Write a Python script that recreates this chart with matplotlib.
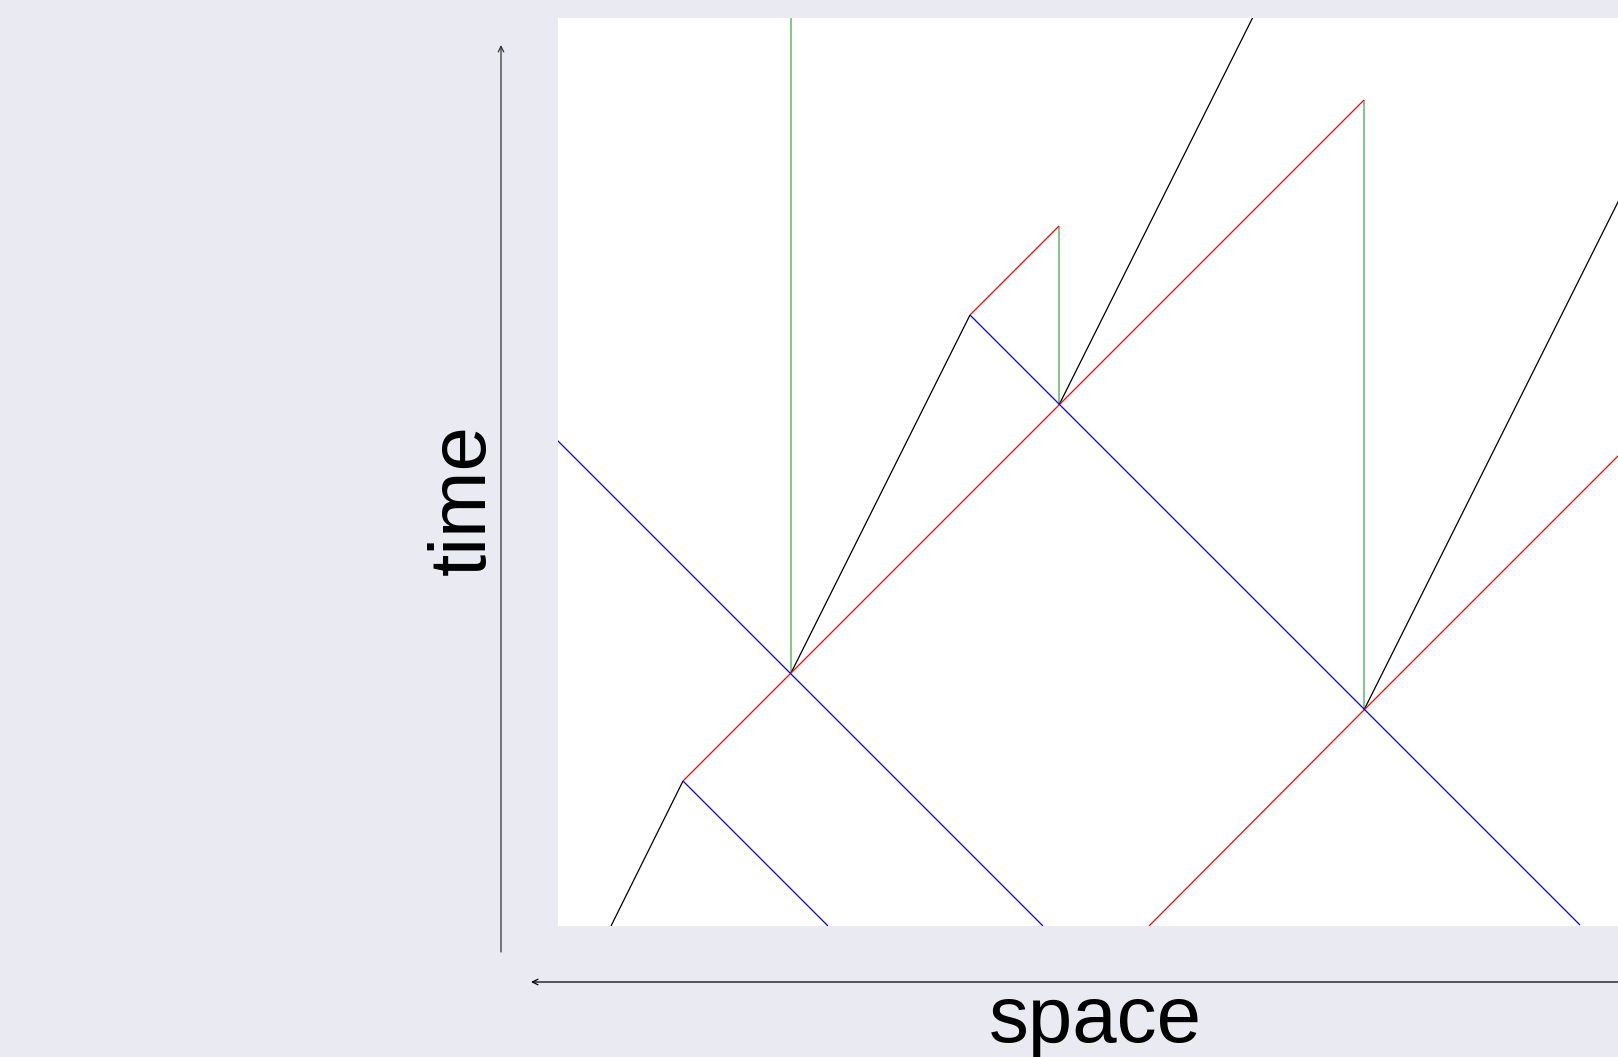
import matplotlib
matplotlib.use("Agg")
import matplotlib.pyplot as plt

# world-line segments (x0, y0, x1, y1) in space/time units
black_segments = [
    (53, 0, 125, 145),
    (233, 253, 412, 611),
    (501, 521, 730, 979),
    (806, 216, 1100, 804),
]
red_segments = [
    (125, 145, 233, 253),
    (233, 253, 501, 521),
    (412, 611, 501, 700),
    (501, 521, 806, 826),
    (591, 0, 806, 216),
    (806, 216, 1100, 510),
]
blue_segments = [
    (-50, 535, 485, 0),
    (125, 145, 270, 0),
    (412, 611, 1022, 1),
]
green_segments = [
    (233, 253, 233, 1000),
    (501, 521, 501, 700),
    (806, 216, 806, 826),
]
x_range = (0, 1060)
t_range = (0, 908)
x_label = "space"
t_label = "time"

W, H = 1618, 1057
fig = plt.figure(figsize=(W / 100, H / 100), dpi=100, facecolor="#EAEAF2")
ax = fig.add_axes([558 / W, (H - 926) / H, 1060 / W, 908 / H])
ax.set_facecolor("white")
for s in ax.spines.values():
    s.set_visible(False)
ax.set_xticks([])
ax.set_yticks([])

def draw(segs, color, lw, alpha=1.0):
    for x0, y0, x1, y1 in segs:
        ax.plot([x0, x1], [y0, y1], color=color, lw=lw, alpha=alpha,
                solid_capstyle="butt")

draw(green_segments, "green", 1.5, 0.45)
draw(black_segments, "black", 0.9)
draw(red_segments, "red", 0.9)
draw(blue_segments, "blue", 0.9)
ax.set_xlim(*x_range)
ax.set_ylim(*t_range)

# axis arrows in figure pixels
ax_arrow = dict(arrowstyle="->", color="black", lw=0.9, shrinkA=0, shrinkB=0,
                mutation_scale=10)
ax.annotate("", xy=(501, H - 45), xytext=(501, H - 952),
            xycoords="figure pixels", textcoords="figure pixels",
            arrowprops=dict(ax_arrow, color="#333333"), annotation_clip=False)
ax.annotate("", xy=(531, H - 982), xytext=(1640, H - 982),
            xycoords="figure pixels", textcoords="figure pixels",
            arrowprops=ax_arrow, annotation_clip=False)

fig.text(1095 / W, (H - 1042) / H, x_label, fontsize=57.5, family="Liberation Sans",
         ha="center", va="baseline")
fig.text(485 / W, (H - 500) / H, t_label, fontsize=57.5, family="Liberation Sans",
         ha="center", va="baseline", rotation=90, rotation_mode="anchor")

fig.savefig("out.png", dpi=100, facecolor=fig.get_facecolor())
